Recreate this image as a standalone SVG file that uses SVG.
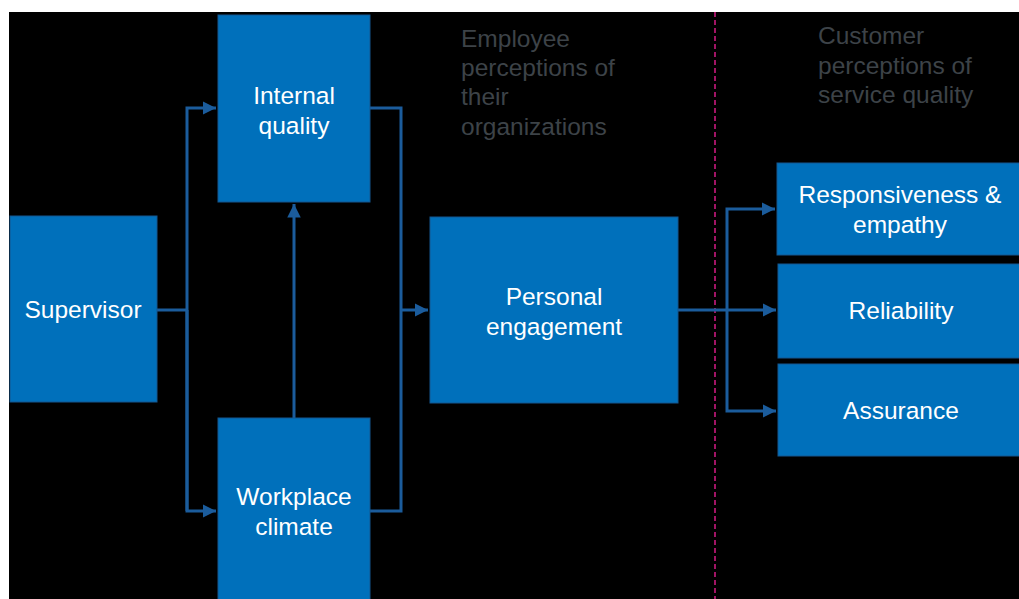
<svg xmlns="http://www.w3.org/2000/svg" width="1019" height="599" viewBox="0 0 1019 599">
  <defs>
    <marker id="arrow" viewBox="0 0 10 10" refX="10" refY="5" markerWidth="4.5" markerHeight="4.5" markerUnits="strokeWidth" orient="auto">
      <path d="M0,0 L10,5 L0,10 z" fill="#1b5c9c"/>
    </marker>
    <style>
      .box { fill: #0070bb; stroke: #14578f; stroke-width: 1; }
      .label { font-family: "Liberation Sans", Arial, sans-serif; font-size: 24.5px; fill: #ffffff; text-anchor: middle; }
      .note { font-family: "Liberation Sans", Arial, sans-serif; font-size: 24.5px; fill: #3d4348; }
      .link { fill: none; stroke: #1b5c9c; stroke-width: 3; }
      .divider { stroke: #c8197e; stroke-width: 1.6; stroke-dasharray: 5 3; }
    </style>
  </defs>

  <rect x="0" y="0" width="1019" height="599" fill="#ffffff"/>
  <rect x="9" y="12" width="1010" height="587" fill="#000000"/>

  <!-- section headings -->
  <g id="employee-heading" class="note">
    <text x="461" y="47">Employee</text>
    <text x="461" y="76">perceptions of</text>
    <text x="461" y="105">their</text>
    <text x="461" y="135">organizations</text>
  </g>
  <g id="customer-heading" class="note">
    <text x="818" y="44">Customer</text>
    <text x="818" y="74">perceptions of</text>
    <text x="818" y="103">service quality</text>
  </g>

  <line class="divider" x1="715" y1="12" x2="715" y2="599"/>

  <!-- connectors -->
  <g id="connectors">
    <polyline class="link" points="157,310 187,310"/>
    <polyline class="link" points="187,511 187,108 216,108" marker-end="url(#arrow)"/>
    <polyline class="link" points="187,310 187,511 216,511" marker-end="url(#arrow)"/>
    <polyline class="link" points="294,418 294,204" marker-end="url(#arrow)"/>
    <polyline class="link" points="370,108 401,108 401,511 370,511"/>
    <polyline class="link" points="401,310 428,310" marker-end="url(#arrow)"/>
    <polyline class="link" points="678,310 776,310" marker-end="url(#arrow)"/>
    <polyline class="link" points="727,310 727,209 775,209" marker-end="url(#arrow)"/>
    <polyline class="link" points="727,310 727,411 776,411" marker-end="url(#arrow)"/>
  </g>

  <!-- nodes -->
  <g id="supervisor">
    <rect class="box" x="10" y="216" width="147" height="186"/>
    <text class="label" x="83" y="318">Supervisor</text>
  </g>
  <g id="internal-quality">
    <rect class="box" x="218" y="15" width="152" height="187"/>
    <text class="label" x="294" y="104">Internal</text>
    <text class="label" x="294" y="134">quality</text>
  </g>
  <g id="workplace-climate">
    <rect class="box" x="218" y="418" width="152" height="190"/>
    <text class="label" x="294" y="505">Workplace</text>
    <text class="label" x="294" y="535">climate</text>
  </g>
  <g id="personal-engagement">
    <rect class="box" x="430" y="217" width="248" height="186"/>
    <text class="label" x="554" y="305">Personal</text>
    <text class="label" x="554" y="335">engagement</text>
  </g>
  <g id="responsiveness-empathy">
    <rect class="box" x="777" y="163" width="250" height="92"/>
    <text class="label" x="900" y="203">Responsiveness &amp;</text>
    <text class="label" x="900" y="233">empathy</text>
  </g>
  <g id="reliability">
    <rect class="box" x="778" y="264" width="250" height="94"/>
    <text class="label" x="901" y="319">Reliability</text>
  </g>
  <g id="assurance">
    <rect class="box" x="778" y="364" width="250" height="92"/>
    <text class="label" x="901" y="419">Assurance</text>
  </g>
</svg>
